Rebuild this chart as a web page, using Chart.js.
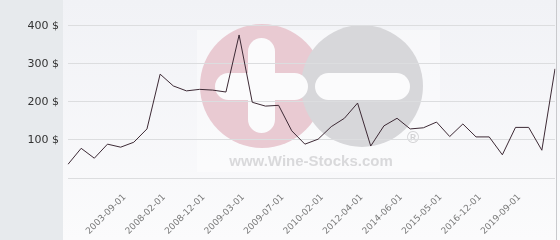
<!DOCTYPE html>
<html>
<head>
<meta charset="utf-8">
<script src="https://cdn.jsdelivr.net/npm/chart.js@4"></script>
<style>
  body { margin: 0; background: #fafafb; }
  canvas { display: block; }
</style>
</head>
<body>
<canvas id="priceChart" width="560" height="240"></canvas>
<script>
// dates shown under the axis, one every third point
const dates = [
  "", "", "", "", "2003-09-01", "", "", "2008-02-01", "", "",
  "2008-12-01", "", "", "2009-03-01", "", "", "2009-07-01", "", "",
  "2010-02-01", "", "", "2012-04-01", "", "", "2014-06-01", "", "",
  "2015-05-01", "", "", "2016-12-01", "", "", "2019-09-01", "", "", ""
];
const prices = [
  36, 78, 52, 89, 81, 94, 129, 273, 242, 229,
  233, 231, 226, 376, 199, 189, 191, 124, 89, 102,
  135, 157, 197, 84, 137, 157, 129, 132, 147, 109,
  142, 108, 108, 61, 133, 133, 73, 287
];
const yTicks = [0, 100, 200, 300, 400];

function roundBar(ctx, x, y, w, h) {
  const r = Math.min(w, h) / 2;
  ctx.beginPath();
  ctx.roundRect(x, y, w, h, r);
  ctx.fill();
}

function circle(ctx, x, y, r) {
  ctx.beginPath();
  ctx.arc(x, y, r, 0, Math.PI * 2);
  ctx.fill();
}

function noPadding(scale) {
  scale.paddingTop = 0;
  scale.paddingBottom = 0;
  scale.paddingLeft = 0;
  scale.paddingRight = 0;
}

// page background + watermark, drawn under the grid
const backdrop = {
  id: "backdrop",
  beforeDraw(chart) {
    const ctx = chart.ctx;
    ctx.save();
    const g = ctx.createLinearGradient(0, 0, 0, 240);
    g.addColorStop(0, "#f1f2f6");
    g.addColorStop(1, "#fbfbfc");
    ctx.fillStyle = g;
    ctx.fillRect(0, 0, 560, 240);
    ctx.fillStyle = "#e7eaed";
    ctx.fillRect(0, 0, 63, 240);
    ctx.fillStyle = "#c9cacd";
    ctx.fillRect(556, 0, 1, 240);

    ctx.fillStyle = "rgba(255,255,255,0.4)";
    ctx.fillRect(197, 30, 243, 142);
    ctx.fillStyle = "#e9cad2";
    circle(ctx, 262, 86, 62);
    ctx.fillStyle = "#d7d7da";
    circle(ctx, 362, 86, 61);
    ctx.fillStyle = "#fbfbfc";
    roundBar(ctx, 248, 38, 27, 95);
    roundBar(ctx, 215, 73, 93, 27);
    roundBar(ctx, 315, 73, 95, 27);
    ctx.fillStyle = "#d9d9db";
    ctx.font = "bold 15px 'Liberation Sans', Arial, sans-serif";
    ctx.textAlign = "center";
    ctx.textBaseline = "alphabetic";
    ctx.fillText("www.Wine-Stocks.com", 311, 166);
    ctx.font = "16px 'DejaVu Sans', sans-serif";
    ctx.fillStyle = "#d2d2d4";
    ctx.textBaseline = "middle";
    ctx.fillText("®", 413, 139);
    ctx.restore();
  }
};

const ctx = document.getElementById("priceChart");
const chart = new Chart(ctx, {
  type: "line",
  data: {
    labels: dates,
    datasets: [
      {
        data: prices,
        borderColor: "#3d2a35",
        borderWidth: 1,
        pointRadius: 0,
        tension: 0,
        fill: false,
      },
    ],
  },
  options: {
    responsive: false,
    animation: false,
    layout: { padding: { top: 3, right: 5, left: 0, bottom: 0 } },
    plugins: { legend: { display: false }, tooltip: { enabled: false } },
    scales: {
      x: {
        offset: false,
        grid: { display: false, drawTicks: false },
        border: { display: false },
        ticks: {
          autoSkip: false,
          minRotation: 45,
          maxRotation: 45,
          padding: 14,
          labelOffset: 4,
          color: "#7a7a7a",
          font: { family: "'DejaVu Sans', sans-serif", size: 9 },
        },
        afterFit(scale) {
          scale.height = 62;
          noPadding(scale);
        },
      },
      y: {
        min: 0,
        max: 460,
        grid: { color: "#dcdddf", drawTicks: false },
        border: { display: false },
        ticks: {
          padding: 9,
          color: "#333",
          font: { family: "'DejaVu Sans', sans-serif", size: 11 },
          callback: (v) => (v === 0 ? "" : v + " $"),
        },
        afterBuildTicks(scale) {
          scale.ticks = yTicks.map((v) => ({ value: v }));
        },
        afterFit(scale) {
          scale.width = 68;
          noPadding(scale);
        },
      },
    },
  },
  plugins: [backdrop],
});
</script>
</body>
</html>
